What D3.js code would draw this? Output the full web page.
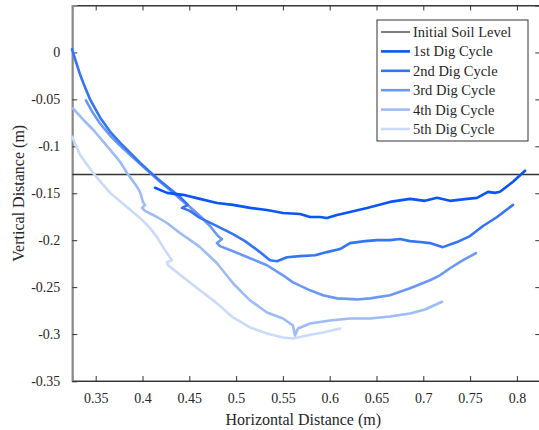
<!DOCTYPE html>
<html>
<head>
<meta charset="utf-8">
<script src="https://cdn.jsdelivr.net/npm/d3@7"></script>
<style>
  html, body { margin: 0; padding: 0; background: #fff; }
  svg text { font-family: "Liberation Serif", "Times New Roman", Times, "DejaVu Serif", serif; fill: #262626; }
</style>
</head>
<body>
<svg id="chart" width="539" height="430"></svg>
<script>
// bucket tip traces, [horizontal (m), vertical (m)]
const cycle1 = [
  [0.4134, -0.1442], [0.4262, -0.1496], [0.4433, -0.1517], [0.4614, -0.1560], [0.4796, -0.1603],
  [0.4967, -0.1624], [0.5149, -0.1656], [0.5330, -0.1678], [0.5501, -0.1710], [0.5683, -0.1721],
  [0.5790, -0.1753], [0.5896, -0.1753], [0.5971, -0.1763], [0.6078, -0.1731], [0.6217, -0.1699],
  [0.6399, -0.1656], [0.6644, -0.1592], [0.6858, -0.1560], [0.7018, -0.1581], [0.7146, -0.1549],
  [0.7285, -0.1581], [0.7467, -0.1560], [0.7574, -0.1549], [0.7691, -0.1485], [0.7766, -0.1496],
  [0.7819, -0.1485], [0.7958, -0.1378], [0.8087, -0.1260]
];
const cycle2 = [
  [0.3247, 0.0035], [0.3290, -0.0104], [0.3332, -0.0232], [0.3386, -0.0372], [0.3440, -0.0500],
  [0.3546, -0.0693], [0.3653, -0.0843], [0.3760, -0.0960], [0.3866, -0.1068], [0.3973, -0.1175],
  [0.4080, -0.1272], [0.4187, -0.1367], [0.4293, -0.1453], [0.4400, -0.1539], [0.4486, -0.1624],
  [0.4422, -0.1656], [0.4507, -0.1688], [0.4614, -0.1763], [0.4775, -0.1839], [0.4967, -0.1935],
  [0.5095, -0.2010], [0.5255, -0.2127], [0.5362, -0.2213], [0.5437, -0.2224], [0.5544, -0.2181],
  [0.5683, -0.2170], [0.5843, -0.2160], [0.5971, -0.2127], [0.6110, -0.2095], [0.6217, -0.2031],
  [0.6377, -0.2010], [0.6505, -0.1999], [0.6644, -0.1999], [0.6751, -0.1988], [0.6858, -0.2010],
  [0.6965, -0.2020], [0.7071, -0.2031], [0.7210, -0.2074], [0.7360, -0.2020], [0.7499, -0.1956],
  [0.7638, -0.1849], [0.7788, -0.1753], [0.7958, -0.1624]
];
const cycle3 = [
  [0.3396, -0.0511], [0.3460, -0.0628], [0.3546, -0.0757], [0.3653, -0.0885], [0.3760, -0.0993],
  [0.3866, -0.1089], [0.3973, -0.1186], [0.4080, -0.1282], [0.4187, -0.1378], [0.4293, -0.1464],
  [0.4400, -0.1560], [0.4507, -0.1646], [0.4614, -0.1742], [0.4721, -0.1849], [0.4807, -0.1956],
  [0.4849, -0.1988], [0.4796, -0.2031], [0.4828, -0.2063], [0.4967, -0.2117], [0.5149, -0.2192],
  [0.5330, -0.2267], [0.5501, -0.2374], [0.5608, -0.2449], [0.5790, -0.2534], [0.5928, -0.2587],
  [0.6078, -0.2620], [0.6292, -0.2631], [0.6431, -0.2620], [0.6644, -0.2587], [0.6858, -0.2512],
  [0.7071, -0.2427], [0.7178, -0.2374], [0.7285, -0.2299], [0.7424, -0.2213], [0.7563, -0.2138]
];
const cycle4 = [
  [0.3257, -0.0596], [0.3364, -0.0714], [0.3471, -0.0821], [0.3653, -0.1035], [0.3760, -0.1164],
  [0.3834, -0.1282], [0.3941, -0.1431], [0.3973, -0.1485], [0.4005, -0.1592], [0.4027, -0.1624],
  [0.3995, -0.1656], [0.4027, -0.1688], [0.4155, -0.1753], [0.4262, -0.1817], [0.4400, -0.1924],
  [0.4540, -0.2020], [0.4614, -0.2074], [0.4796, -0.2245], [0.4967, -0.2459], [0.5149, -0.2641],
  [0.5330, -0.2770], [0.5501, -0.2834], [0.5608, -0.2909], [0.5629, -0.3016], [0.5662, -0.2941],
  [0.5790, -0.2887], [0.6003, -0.2855], [0.6217, -0.2834], [0.6431, -0.2834], [0.6644, -0.2813],
  [0.6858, -0.2780], [0.7018, -0.2738], [0.7200, -0.2656]
];
const cycle5 = [
  [0.3247, -0.0896], [0.3332, -0.1089], [0.3471, -0.1282], [0.3653, -0.1496], [0.3834, -0.1646],
  [0.3973, -0.1763], [0.4080, -0.1870], [0.4155, -0.1967], [0.4219, -0.2074], [0.4293, -0.2181],
  [0.4315, -0.2213], [0.4262, -0.2234], [0.4272, -0.2267], [0.4369, -0.2342], [0.4475, -0.2427],
  [0.4614, -0.2534], [0.4796, -0.2673], [0.4967, -0.2823], [0.5149, -0.2930], [0.5330, -0.2995],
  [0.5501, -0.3037], [0.5608, -0.3048], [0.5758, -0.3016], [0.5928, -0.2984], [0.6110, -0.2941]
];

const soilLevel = -0.13;
const seriesNames = ["1st Dig Cycle", "2nd Dig Cycle", "3rd Dig Cycle", "4th Dig Cycle", "5th Dig Cycle"];
const seriesColors = ["#0a55f7", "#3574f5", "#6a98f5", "#9cbbf7", "#c9dafa"];
const xTicks = [0.35, 0.4, 0.45, 0.5, 0.55, 0.6, 0.65, 0.7, 0.75, 0.8];
const yTicks = [0, -0.05, -0.1, -0.15, -0.2, -0.25, -0.3, -0.35];

const SERIF = "'Liberation Serif', 'Times New Roman', Times, 'DejaVu Serif', serif";

const svg = d3.select("#chart");
const plotL = 72.3, plotR = 540.3, plotT = 5.5, plotB = 381;

const x = d3.scaleLinear().domain([0.325, 0.825]).range([plotL, plotR]);
const y = d3.scaleLinear().domain([-0.35, 0.05]).range([plotB, plotT]);

const fmt = (d) => String(+d.toFixed(2));

// frame
svg.append("rect")
  .attr("x", plotL).attr("y", plotT)
  .attr("width", plotR - plotL).attr("height", plotB - plotT)
  .attr("fill", "none").attr("stroke", "#444").attr("stroke-width", 1);

// bottom + top axes
svg.append("g").attr("transform", `translate(0,${plotB})`)
  .call(d3.axisBottom(x).tickValues(xTicks).tickSize(-5).tickPadding(12).tickFormat(fmt));
svg.append("g").attr("transform", `translate(0,${plotT})`)
  .call(d3.axisTop(x).tickValues(xTicks).tickSize(-5).tickFormat(""));

// left + right axes
const yAxis = svg.append("g").attr("transform", `translate(${plotL},0)`)
  .call(d3.axisLeft(y).tickValues(yTicks).tickSize(-5).tickPadding(12).tickFormat(fmt));
svg.append("g").attr("transform", `translate(${plotR},0)`)
  .call(d3.axisRight(y).tickValues(yTicks).tickSize(-5).tickFormat(""));

svg.selectAll("g").attr("font-family", null);
svg.selectAll(".domain").attr("stroke", "#333");
svg.selectAll(".tick line").attr("stroke", "#333");
svg.selectAll(".tick text")
  .style("font-family", SERIF)
  .style("font-size", "14px")
  .attr("fill", "#262626");
yAxis.select(".domain").attr("stroke", "#8a8a8a").attr("stroke-width", 2);

// initial soil level
svg.append("line")
  .attr("x1", plotL).attr("x2", plotR)
  .attr("y1", y(soilLevel)).attr("y2", y(soilLevel))
  .attr("stroke", "#333").attr("stroke-width", 1.4);

const line = d3.line().x((d) => x(d[0])).y((d) => y(d[1]));
const cycles = [cycle1, cycle2, cycle3, cycle4, cycle5];

// draw lightest first so the darker cycles sit on top
cycles.map((c, i) => ({c, i})).reverse().forEach(({c, i}) => {
  svg.append("path")
    .datum(c)
    .attr("fill", "none")
    .attr("stroke", seriesColors[i])
    .attr("stroke-width", 2.6)
    .attr("stroke-linejoin", "round")
    .attr("stroke-linecap", "round")
    .attr("d", line);
});

// axis titles
svg.append("text")
  .attr("x", (plotL + plotR) / 2 - 3).attr("y", 425)
  .attr("text-anchor", "middle")
  .style("font-family", SERIF)
  .style("font-size", "16px")
  .text("Horizontal Distance (m)");

svg.append("text")
  .attr("transform", `translate(24,${(plotT + plotB) / 2}) rotate(-90)`)
  .attr("text-anchor", "middle")
  .style("font-family", SERIF)
  .style("font-size", "16px")
  .text("Vertical Distance (m)");

// legend
const legend = svg.append("g").attr("transform", "translate(377,20)");
legend.append("rect")
  .attr("width", 151).attr("height", 121)
  .attr("fill", "#fff").attr("stroke", "#333").attr("stroke-width", 1);

const legendItems = [{name: "Initial Soil Level", color: "#444", w: 1.4}]
  .concat(seriesNames.map((n, i) => ({name: n, color: seriesColors[i], w: 2.6})));

const rows = legend.selectAll("g.row")
  .data(legendItems)
  .enter()
  .append("g")
  .attr("class", "row")
  .attr("transform", (d, i) => `translate(0,${12 + i * 19.4})`);

rows.append("line")
  .attr("x1", 4).attr("x2", 33)
  .attr("stroke", (d) => d.color)
  .attr("stroke-width", (d) => d.w);

rows.append("text")
  .attr("x", 36).attr("y", 5)
  .style("font-family", SERIF)
  .style("font-size", "14.5px")
  .text((d) => d.name);
</script>
</body>
</html>
